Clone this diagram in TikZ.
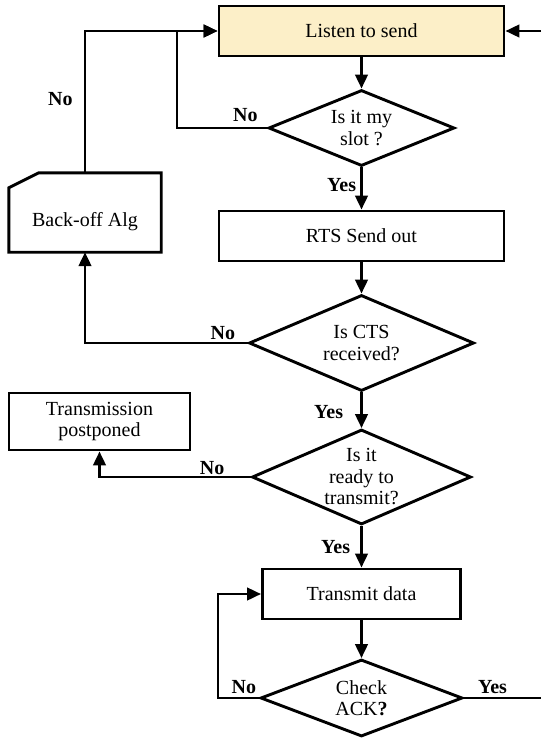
\documentclass[tikz,border=0pt]{standalone}
\usepackage{fontspec}
\setmainfont{Liberation Serif}
\usetikzlibrary{shapes.geometric, arrows.meta, positioning}
\definecolor{listenfill}{RGB}{252,239,200}

\begin{document}
\begin{tikzpicture}[x=1pt, y=1pt, font=\fontsize{20}{21.5}\selectfont]
		
		% Setup the styles for the blocks and the arrows
		\tikzset{proc style/.style={rectangle, draw, line width=2.9pt, inner sep=0pt, align=center},
				test style/.style={diamond, draw, line width=2.9pt, inner sep=0pt, align=center},
				flow style/.style={line width=2.8pt, -{Triangle[length=14pt, width=12.5pt]}},
				tag style/.style={font=\fontsize{20}{21.5}\selectfont\bfseries, inner sep=1pt}}
		
		\useasboundingbox (0,0) rectangle (541,-741);
		
		% Draw the blocks
		\node[proc style, fill=listenfill, minimum width=285, minimum height=50] at (361.5, -31) (listen) {Listen to send};
		\node[test style, aspect=2.45, minimum width=186, minimum height=76] at (361.5, -128) (slot) {Is it my\\slot ?};
		\node[proc style, minimum width=285, minimum height=50] at (361.5, -236) (rts) {RTS Send out};
		\node[test style, aspect=2.35, minimum width=225, minimum height=96] at (361.5, -343) (cts) {Is CTS\\received?};
		\node[test style, aspect=2.3, minimum width=219, minimum height=95] at (361.5, -477) (ready) {Is it\\ready to\\transmit?};
		\node[proc style, minimum width=198, minimum height=50] at (361.5, -594) (transmit) {Transmit data};
		\node[test style, aspect=2.6, minimum width=202, minimum height=77] at (361.5, -698) (ack) {Check\\ACK\textbf{?}};
		\node[proc style, minimum width=181, minimum height=57] at (99.5, -421.5) (postponed) {Transmission\\postponed};
		\node[minimum width=152, minimum height=79, inner sep=0pt, text height=33pt] at (85, -212.5) (backoff) {Back-off Alg};
		\draw[line width=2.9pt] (backoff.south west) -- (backoff.south east) -- (backoff.north east)
			-- ([xshift=30pt]backoff.north west) -- ([yshift=-15pt]backoff.north west) -- cycle;
		
		% Free ends at the right border
		\coordinate (topedge) at (541, -31);
		\coordinate (botedge) at (541, -698);
		
		% Connect the blocks with arrows
		\draw[flow style] (listen.south) -- (slot.north);
		\draw[flow style] (slot.south) -- node[tag style, left=3pt, pos=0.42] {Yes} (rts.north);
		\draw[flow style] (slot.west) -- node[tag style, above=4pt, pos=0.24] {No} ++(-90, 0) |- (listen.west);
		\draw[flow style] (backoff.north) |- node[tag style, left=10pt, pos=0.26] {No} (listen.west);
		\draw[flow style] (topedge) -- (listen.east);
		\draw[flow style] (rts.south) -- (cts.north);
		\draw[flow style] (cts.west) -| node[tag style, above=1pt, pos=0.076] {No} (backoff.south);
		\draw[flow style] (cts.south) -- node[tag style, left=16pt, pos=0.55] {Yes} (ready.north);
		\draw[flow style] (ready.west) -| node[tag style, above=0pt, pos=0.127] {No} (postponed.south);
		\draw[flow style] (ready.south) -- node[tag style, left=9pt, pos=0.5] {Yes} (transmit.north);
		\draw[flow style] (transmit.south) -- (ack.north);
		\draw[flow style] (ack.west) -- node[tag style, above=2pt, pos=0.37] {No} ++(-41, 0) |- (transmit.west);
		\draw[line width=2.8pt] (ack.east) -- node[tag style, above=2pt, pos=0.37] {Yes} (botedge);
		
\end{tikzpicture}
\end{document}
